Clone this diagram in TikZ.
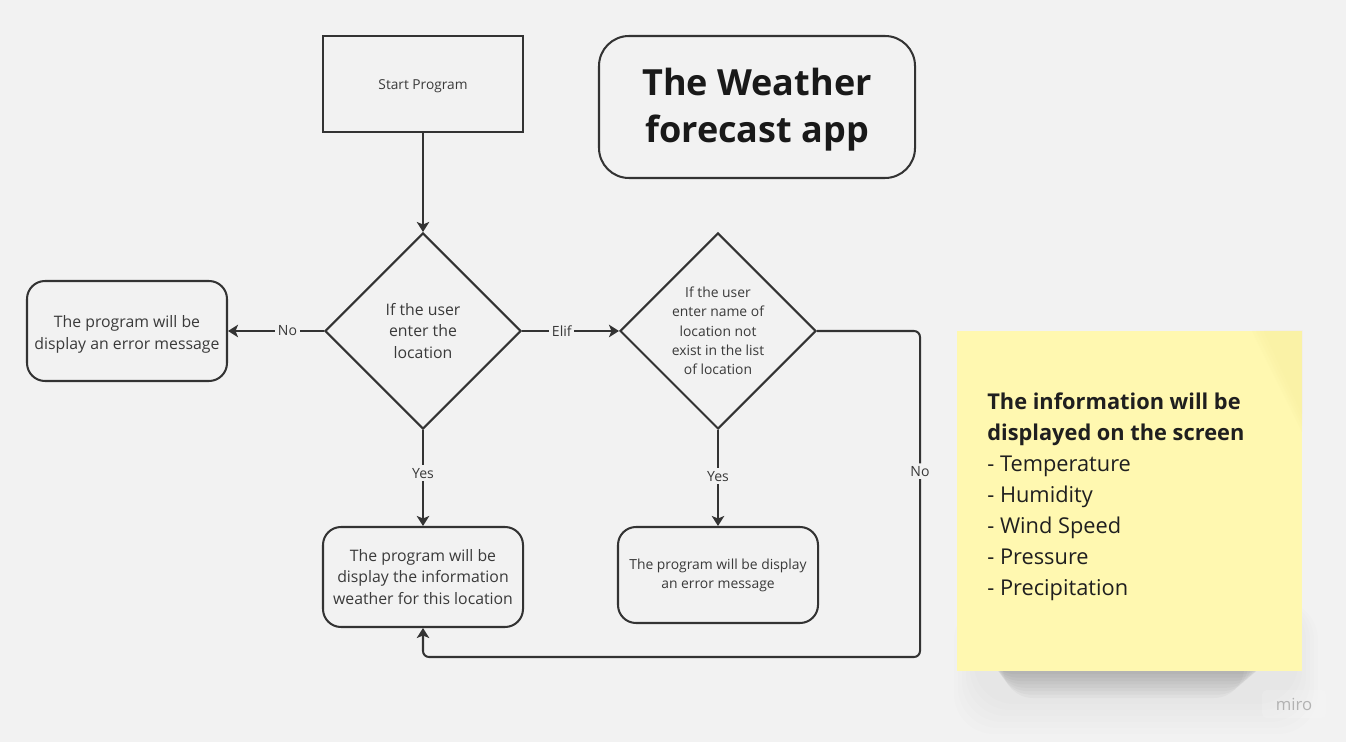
\documentclass[tikz,border=0pt]{standalone}
\usepackage{fontspec}
\setmainfont{Open Sans}
\usetikzlibrary{shapes.geometric,arrows.meta}
\definecolor{bgcol}{HTML}{F2F2F2}
\definecolor{ink}{HTML}{333333}
\definecolor{txt}{HTML}{3A3A3A}
\definecolor{sticky}{HTML}{FFF8B0}
\definecolor{stickyfold}{HTML}{F7EE9E}
\tikzset{
  procbox/.style={draw=ink,line width=1.15pt,rounded corners=3.6mm,minimum width=40mm,
    minimum height=20mm,align=center,text=txt,inner sep=0pt},
  decision/.style={draw=ink,line width=1.15pt,diamond,aspect=1,minimum width=39.2mm,
    minimum height=39.2mm,align=center,text=txt,inner sep=0pt},
  flow/.style={draw=ink,line width=1.15pt,-{Stealth[length=2mm,width=2.5mm,inset=0.5mm]}},
  lbl/.style={fill=bgcol,text=txt,inner sep=1.5pt,font=\fontsize{8}{9}\selectfont},
}
\begin{document}
\begin{tikzpicture}[x=0.2mm,y=-0.2mm]
  \fill[bgcol] (0,0) rectangle (1346,742);
  \useasboundingbox (0,0) rectangle (1346,742);

  % flowchart
  \node[procbox,rounded corners=0pt,minimum height=19.2mm,
    font=\fontsize{7.8}{9}\selectfont] (start) at (423,84)
    {\raisebox{-1.1pt}[\height][\depth]{Start Program}};
  \node[procbox,rounded corners=6mm,minimum width=63.2mm,minimum height=28.4mm] (title) at (757,107) {};
  \node[text=black!90,align=center,font=\bfseries\fontsize{20.5}{26.6}\selectfont] (titletext)
    at ([yshift=-0.6mm]title.center) {The Weather\\forecast app};
  \node[decision,font=\fontsize{9}{12.5}\selectfont] (ifloc) at (423,331)
    {If the user\\enter the\\location};
  \node[decision,font=\fontsize{7.9}{11}\selectfont] (ifnot) at (718,331)
    {If the user\\enter name of\\location not\\exist in the list\\of location};
  \node[procbox,font=\fontsize{9}{12.5}\selectfont] (errleft) at (127,331)
    {\raisebox{-1.6pt}[\height][\depth]{\begin{tabular}{@{}c@{}}The program will be\\display an error message\end{tabular}}};
  \node[procbox,font=\fontsize{9}{12.2}\selectfont] (showinfo) at (423,577)
    {The program will be\\display the information\\weather for this location};
  \node[procbox,minimum height=19.2mm,font=\fontsize{7.9}{10.8}\selectfont] (errright) at (718,575)
    {The program will be display\\an error message};
  \coordinate (nobend) at (920,657);

  \draw[flow] (start) -- (ifloc);
  \draw[flow] (ifloc) -- node[lbl,pos=0.38] {No} (errleft);
  \draw[flow] (ifloc) -- node[lbl,pos=0.41] {Elif} (ifnot);
  \draw[flow] (ifloc) -- node[lbl,pos=0.45] {Yes} (showinfo);
  \draw[flow] (ifnot) -- node[lbl,pos=0.48] {Yes} (errright);
  \draw[flow,rounded corners=1.2mm] (ifnot.east) -| node[lbl,pos=0.715] {No} (nobend)
    -| (showinfo.south);

  % sticky note with its shadow
  \foreach \i in {1,...,6}
    \fill[black,opacity=0.008,rounded corners=8mm] (950+\i*4,600) rectangle (1322-\i*4,740-\i*6);
  \foreach \i in {1,...,10}
    \fill[black,opacity=0.026,rounded corners=6mm] (978+\i*2.5,630) rectangle (1284-\i*4,664+\i*3.4);
  \fill[sticky] (957,331) rectangle (1302,671);
  \foreach \i in {0,...,3}
    \fill[stickyfold,opacity=0.15] (1252+\i*4,331) -- (1302,331) -- (1302,432-\i*6) -- cycle;
  \node[anchor=west,inner sep=0pt,align=left,text=black!88,
    font=\fontsize{12.4}{17.6}\selectfont] (infotext) at (987,497)
    {\textbf{The information will be}\\\textbf{displayed on the screen}\\- Temperature\\- Humidity\\- Wind Speed\\- Pressure\\- Precipitation};

  % watermark
  \fill[white,opacity=0.15,rounded corners=1mm] (1262,690) rectangle (1326,718);
  \node[text=black!30,font=\fontsize{9.5}{11}\selectfont] (mirotag) at (1294,704) {miro};
\end{tikzpicture}
\end{document}
